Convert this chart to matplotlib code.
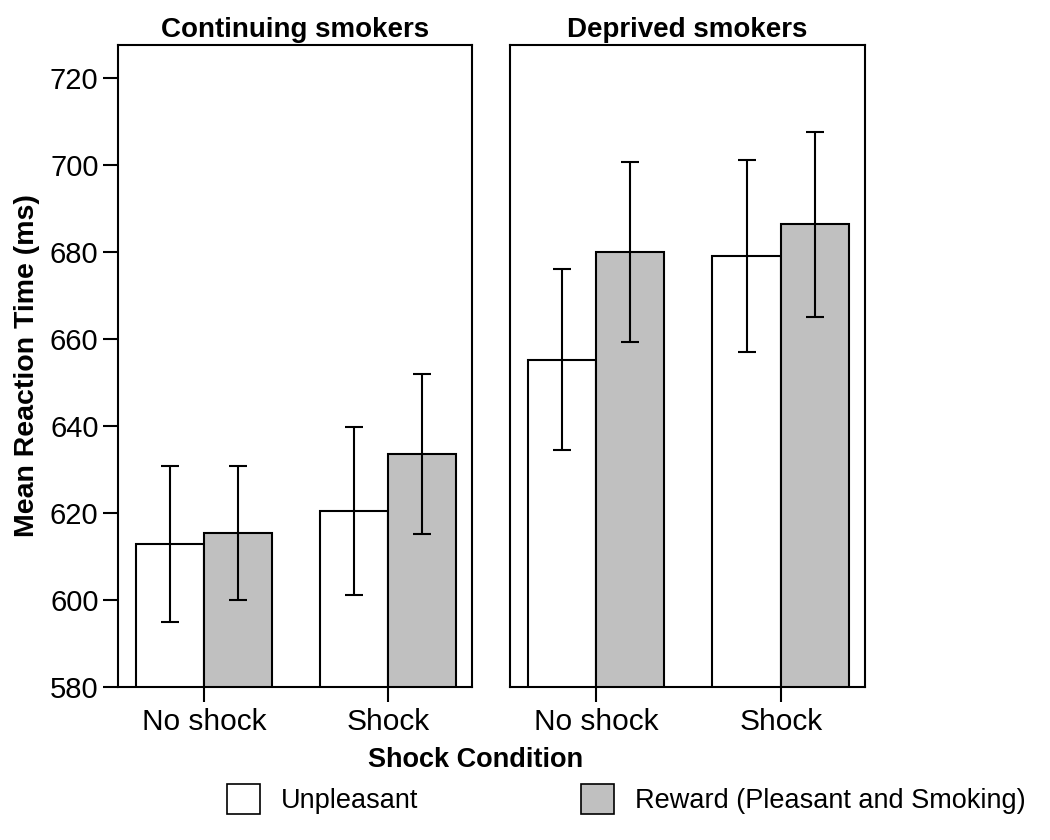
import matplotlib
matplotlib.use('Agg')
import matplotlib.pyplot as plt
from matplotlib.patches import Patch
import numpy as np

plt.rcParams['font.family'] = ['Liberation Sans', 'DejaVu Sans']

conditions = ['No shock', 'Shock']
groups = ['Continuing smokers', 'Deprived smokers']
series = ['Unpleasant', 'Reward (Pleasant and Smoking)']

# mean RT per group: [No shock, Shock]
unpleasant_means = [[612.9, 620.5], [655.2, 679.1]]
reward_means = [[615.4, 633.6], [680.0, 686.4]]
unpleasant_err = [[18.0, 19.3], [20.8, 22.1]]
reward_err = [[15.5, 18.4], [20.7, 21.3]]

yticks = [580, 600, 620, 640, 660, 680, 700, 720]

fig = plt.figure(figsize=(10.5, 8.4), dpi=100)
W, H = 1050.0, 840.0
ax_left = fig.add_axes([118 / W, 1 - 687 / H, 354 / W, 642 / H])
ax_right = fig.add_axes([510 / W, 1 - 687 / H, 355 / W, 642 / H])

width = 0.37
x = np.arange(len(conditions))
err_kw = dict(ecolor='black', elinewidth=1.5, capsize=6.3, capthick=1.5)

for i, ax in enumerate([ax_left, ax_right]):
    ax.bar(x, unpleasant_means[i], width=-width, align='edge', color='white',
           edgecolor='black', linewidth=1.5, zorder=2)
    ax.bar(x, reward_means[i], width=width, align='edge', color='#c0c0c0',
           edgecolor='black', linewidth=1.5, zorder=2)
    ax.errorbar(x - width / 2, unpleasant_means[i], yerr=unpleasant_err[i],
                fmt='none', zorder=3, **err_kw)
    ax.errorbar(x + width / 2, reward_means[i], yerr=reward_err[i],
                fmt='none', zorder=3, **err_kw)

    ax.set_xlim(-0.467, 1.457)
    ax.set_ylim(580, 727.6)
    ax.set_xticks(x)
    ax.set_xticklabels(conditions, fontsize=21.5)
    ax.set_title(groups[i], fontsize=20, fontweight='bold', pad=6)
    for sp in ax.spines.values():
        sp.set_linewidth(1.5)
    ax.tick_params(axis='x', direction='out', length=11, width=1.5, pad=4)

ax_left.set_yticks(yticks)
ax_left.tick_params(axis='y', direction='out', length=11, width=1.5, pad=3,
                    labelsize=21)
ax_left.set_ylabel('Mean Reaction Time (ms)', fontsize=20.5, fontweight='bold',
                   labelpad=7)
ax_right.set_yticks([])

fig.text(476 / W, 1 - 760 / H, 'Shock Condition', fontsize=19.5,
         fontweight='bold', ha='center', va='center')

handles = [Patch(facecolor='white', edgecolor='black', linewidth=1.2),
           Patch(facecolor='#c0c0c0', edgecolor='black', linewidth=1.2)]
fig.legend(handles, series, loc='center', bbox_to_anchor=(626 / W, 1 - 799 / H),
           ncol=2, frameon=False, fontsize=19.5, handlelength=1.25,
           handleheight=1.3, handletextpad=0.75, columnspacing=6.0)

fig.savefig('out.png', dpi=100)
